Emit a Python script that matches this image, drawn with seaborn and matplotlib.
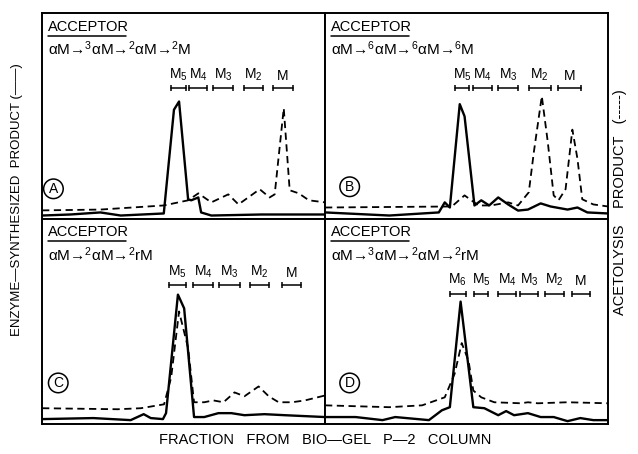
import seaborn as sns
import matplotlib.pyplot as plt

# fraction axis runs 0-100 in each panel, response 0-100 (arbitrary units)
a_solid_x = [0, 10, 20.6, 27.8, 43, 46.6, 48.4, 51.6, 52.7, 55.2, 56.2, 59.8, 77.6, 100]
a_solid_y = [1.5, 2, 3, 1.5, 2.5, 53, 57, 9.4, 8.9, 10.3, 3, 1.5, 2, 2]
a_dash_x = [0, 20.6, 43, 51.6, 55.2, 59.8, 65.8, 69.4, 76.9, 80.4, 82.2, 85.4, 87.5, 90.7, 94.3, 100]
a_dash_y = [4, 4.4, 6.4, 8.9, 12.3, 7.9, 11.8, 6.9, 14.3, 10.3, 11.8, 53.7, 13.8, 12.3, 8.9, 7.9]

b_solid_x = [0, 22.7, 40.2, 42.3, 44.1, 47.6, 49.3, 52.8, 55.2, 58, 61.2, 64.7, 68.2, 71.7,
             76.2, 79.7, 85.7, 89.2, 92.7, 100]
b_solid_y = [3, 1.5, 3, 7.9, 5.4, 55.7, 49.8, 6.4, 8.9, 6.4, 10.3, 6.9, 3.9, 4.4,
             7.4, 5.9, 4.4, 5.4, 3, 2.5]
b_dash_x = [0, 44.8, 49.3, 54.2, 58.7, 64.7, 68.2, 72, 73.8, 76.6, 78.7, 80.8, 82.5, 85,
            87.4, 89.2, 90.9, 94.8, 100]
b_dash_y = [5.4, 5.9, 11.3, 6.4, 6.4, 7.9, 6.4, 12.8, 32.5, 59.6, 37.4, 11.3, 8.9, 14.3,
            43.3, 29.1, 9.4, 6.9, 5.9]

c_solid_x = [0, 18.1, 31.3, 35.9, 38.4, 42.7, 43.8, 48, 50.2, 53.7, 57.3, 62.3, 66.9, 71.5,
             78.6, 85.8, 100]
c_solid_y = [2.4, 2.9, 1.9, 4.8, 2.9, 2.4, 5.3, 63, 56.3, 3.4, 3.4, 5.3, 5.3, 4.3,
             4.8, 4.3, 3.4]
c_dash_x = [0, 26.7, 34.9, 43.1, 45.6, 48.4, 51.6, 53.7, 57.3, 60.5, 64.1, 68, 71.5, 76.5,
            80.1, 83.6, 88.3, 92.9, 100]
c_dash_y = [7.7, 7.2, 7.7, 9.6, 22.6, 54.8, 37, 10.6, 10.6, 11.5, 10.6, 15.4, 13.5, 18.3,
            13.5, 10.6, 10.6, 11.5, 13.9]

d_solid_x = [0, 10.8, 20.3, 24.8, 36.7, 41.3, 44.1, 47.9, 52.4, 56.3, 61.2, 64, 66.8, 71.7,
             76.2, 80.8, 85.7, 90.2, 94.8, 100]
d_solid_y = [3.4, 3.4, 1.9, 3.4, 1.9, 6.7, 8.2, 59.6, 8.2, 7.7, 4.3, 6.3, 4.3, 5.3,
             3.4, 3.4, 1.4, 2.9, 1.9, 1.9]
d_dash_x = [0, 22.7, 34.3, 42.3, 45.8, 48.3, 50.7, 52.4, 55.2, 59.8, 69.2, 71.7, 75.2, 85.7, 100]
d_dash_y = [9.1, 8.2, 9.1, 13, 24.5, 39.4, 30.8, 16.3, 13, 10.6, 10.1, 10.6, 10.1, 10.6, 10.1]

letters = ["A", "B", "C", "D"]
formulas = ["αM→$^3$αM→$^2$αM→$^2$M", "αM→$^6$αM→$^6$αM→$^6$M",
            "αM→$^2$αM→$^2$rM", "αM→$^3$αM→$^2$αM→$^2$rM"]

# oligomer size markers (fraction ranges)
a_marks = ["M$_5$", "M$_4$", "M$_3$", "M$_2$", "M"]
a_spans = [(45.6, 50.9), (52, 58.4), (60.5, 67.6), (71.5, 77.9), (81.5, 88.6)]
b_marks = ["M$_5$", "M$_4$", "M$_3$", "M$_2$", "M"]
b_spans = [(45.8, 51), (52.4, 59.1), (61.2, 68.2), (72, 79.7), (82.2, 90.6)]
c_marks = ["M$_5$", "M$_4$", "M$_3$", "M$_2$", "M"]
c_spans = [(44.8, 50.9), (53.4, 60.5), (62.6, 69.8), (73.3, 80.1), (84.7, 91.5)]
d_marks = ["M$_6$", "M$_5$", "M$_4$", "M$_3$", "M$_2$", "M"]
d_spans = [(44.1, 49.7), (52.8, 57.7), (61.2, 67.5), (68.9, 75.2), (77.6, 84.3), (87.1, 93.7)]

sns.set_style("white")
plt.rcParams["font.family"] = ["Liberation Sans", "DejaVu Sans"]
plt.rcParams["text.color"] = "black"
plt.rcParams["mathtext.fontset"] = "custom"
plt.rcParams["mathtext.rm"] = "Liberation Sans"
plt.rcParams["mathtext.it"] = "Liberation Sans"
plt.rcParams["mathtext.default"] = "rm"

fig, axes = plt.subplots(2, 2, figsize=(6.38, 4.54), dpi=100)
fig.subplots_adjust(left=0.066, right=0.953, top=0.971, bottom=0.066, wspace=0, hspace=0)

panels = [
    (a_solid_x, a_solid_y, a_dash_x, a_dash_y, a_marks, a_spans, (0.04, 0.145)),
    (b_solid_x, b_solid_y, b_dash_x, b_dash_y, b_marks, b_spans, (0.087, 0.155)),
    (c_solid_x, c_solid_y, c_dash_x, c_dash_y, c_marks, c_spans, (0.057, 0.2)),
    (d_solid_x, d_solid_y, d_dash_x, d_dash_y, d_marks, d_spans, (0.087, 0.2)),
]

for i, ax in enumerate(axes.flat):
    sx, sy, dx, dy, marks, spans, circ = panels[i]
    sns.lineplot(x=sx, y=sy, ax=ax, color="black", lw=1.7, estimator=None, sort=False)
    sns.lineplot(x=dx, y=dy, ax=ax, color="black", lw=1.3, estimator=None, sort=False,
                 dashes=False, linestyle=(0, (4, 2.5)))
    ax.set_xlim(0, 100)
    ax.set_ylim(0, 100)
    ax.set_xticks([])
    ax.set_yticks([])
    for s in ax.spines.values():
        s.set_linewidth(1.4)
        s.set_color("black")

    ax.text(0.02, 0.935, "ACCEPTOR", transform=ax.transAxes, fontsize=10.5,
            va="center", ha="left")
    ax.plot([0.02, 0.295], [0.89, 0.89], transform=ax.transAxes, color="black", lw=1.1)
    ax.text(0.02, 0.825, formulas[i], transform=ax.transAxes, fontsize=11,
            va="center", ha="left")

    # bracket rows sit a bit higher in the lower left panel
    yb = 0.635 if i != 2 else 0.678
    trans = ax.get_xaxis_transform()
    for lab, (x0, x1) in zip(marks, spans):
        ax.plot([x0, x1], [yb, yb], transform=trans, color="black", lw=1.1,
                marker="|", markersize=4, markeredgewidth=1.1)
        ax.text((x0 + x1) / 2, yb + 0.025, lab, transform=trans, fontsize=10,
                ha="center", va="bottom")

    ax.text(circ[0], circ[1], letters[i], transform=ax.transAxes, fontsize=10,
            ha="center", va="center",
            bbox=dict(boxstyle="circle,pad=0.2", fc="white", ec="black", lw=1.1))

fig.text(0.027, 0.56, "ENZYME—SYNTHESIZED  PRODUCT (——)", rotation=90,
         ha="center", va="center", fontsize=9.5)
fig.text(0.972, 0.555, "ACETOLYSIS    PRODUCT   (-----)", rotation=90,
         ha="center", va="center", fontsize=10.5)
fig.text(0.51, 0.03, "FRACTION   FROM   BIO—GEL   P—2   COLUMN",
         ha="center", va="center", fontsize=10.5)

fig.savefig("out.png", dpi=100)
